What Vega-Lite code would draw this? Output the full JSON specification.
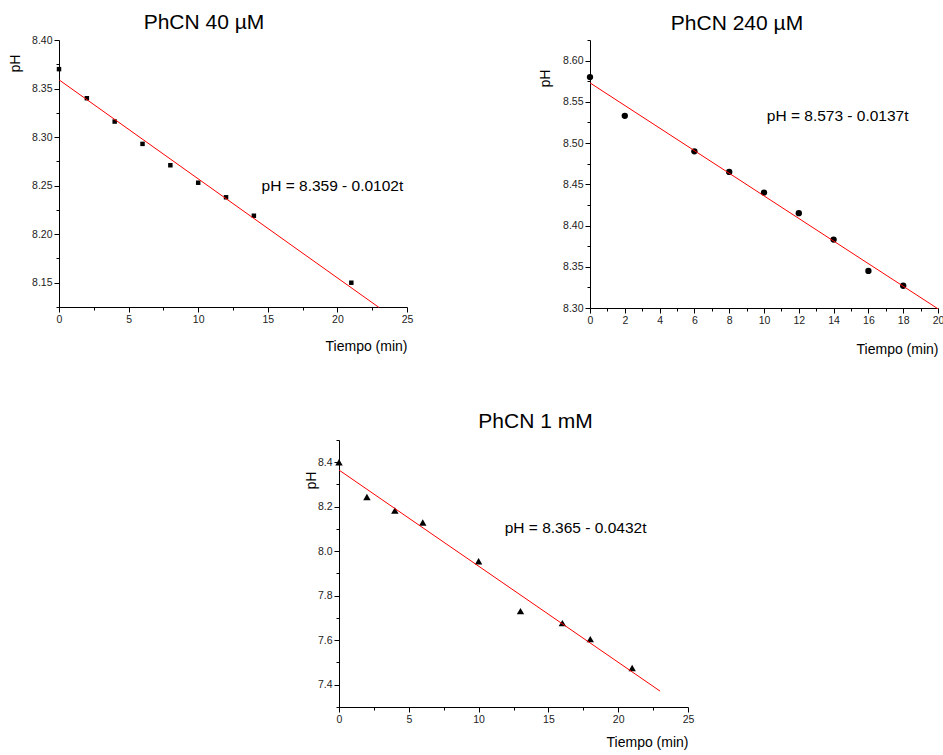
{
  "$schema": "https://vega.github.io/schema/vega-lite/v6.json",
  "padding": {"left": 8, "top": 12, "right": 0, "bottom": 0},
  "background": "white",
  "config": {
    "font": "Liberation Sans",
    "view": {"stroke": null},
    "title": {"font": "Liberation Sans", "fontSize": 21, "fontWeight": "normal", "color": "black", "frame": "group", "anchor": "middle"},
    "axis": {
      "grid": false, "domainColor": "black", "domainWidth": 1, "tickColor": "black", "tickWidth": 1,
      "labelFont": "Liberation Sans", "labelFontSize": 10.5, "labelColor": "#222", "labelPadding": 2,
      "labelFlush": false, "labelOverlap": false, "labelBound": false,
      "titleFont": "Liberation Sans", "titleFontSize": 14, "titleFontWeight": "normal", "titleColor": "black"
    },
    "text": {"font": "Liberation Sans"}
  },
  "datasets": {
    "p40": [
      {"t": 0, "pH": 8.370}, {"t": 2, "pH": 8.340}, {"t": 4, "pH": 8.316}, {"t": 6, "pH": 8.293},
      {"t": 8, "pH": 8.271}, {"t": 10, "pH": 8.253}, {"t": 12, "pH": 8.238}, {"t": 14, "pH": 8.219},
      {"t": 21, "pH": 8.150}
    ],
    "f40": [{"t": 0, "pH": 8.359}, {"t": 23, "pH": 8.1244}],
    "p240": [
      {"t": 0, "pH": 8.580}, {"t": 2, "pH": 8.533}, {"t": 6, "pH": 8.490}, {"t": 8, "pH": 8.465},
      {"t": 10, "pH": 8.440}, {"t": 12, "pH": 8.415}, {"t": 14, "pH": 8.383}, {"t": 16, "pH": 8.345},
      {"t": 18, "pH": 8.327}
    ],
    "f240": [{"t": 0, "pH": 8.573}, {"t": 20, "pH": 8.299}],
    "p1": [
      {"t": 0, "pH": 8.400}, {"t": 2, "pH": 8.244}, {"t": 4, "pH": 8.183}, {"t": 6, "pH": 8.129},
      {"t": 10, "pH": 7.955}, {"t": 13, "pH": 7.731}, {"t": 16, "pH": 7.677}, {"t": 18, "pH": 7.605},
      {"t": 21, "pH": 7.475}
    ],
    "f1": [{"t": 0, "pH": 8.365}, {"t": 23, "pH": 7.3714}]
  },
  "spacing": 53,
  "vconcat": [
    {
      "spacing": 125,
      "hconcat": [
        {
          "width": 348, "height": 267,
          "title": {"text": "PhCN 40 µM", "dx": -29, "offset": 2},
          "resolve": {"axis": {"x": "independent", "y": "independent"}},
          "layer": [
            {
              "data": {"name": "p40"},
              "mark": {"type": "square", "size": 20, "color": "black", "opacity": 1},
              "encoding": {
                "x": {"field": "t", "type": "quantitative", "scale": {"domain": [0, 25], "nice": false, "zero": false},
                  "axis": {"orient": "bottom", "title": "Tiempo (min)", "titleAnchor": "end", "titlePadding": 14.5,
                    "values": [0, 5, 10, 15, 20, 25], "tickSize": 5, "labelOverlap": false, "labelFlush": false}},
                "y": {"field": "pH", "type": "quantitative", "scale": {"domain": [8.125, 8.4], "nice": false, "zero": false},
                  "axis": {"orient": "left", "title": "pH", "titleX": -44, "titleY": 23, "titleAngle": -90, "titleAlign": "center", "titleBaseline": "middle",
                    "values": [8.15, 8.2, 8.25, 8.3, 8.35, 8.4], "format": ".2f", "tickSize": 5, "labelOverlap": false}}
              }
            },
            {
              "data": {"name": "f40"},
              "mark": {"type": "line", "color": "#ff0000", "strokeWidth": 1},
              "encoding": {
                "x": {"field": "t", "type": "quantitative",
                  "axis": {"orient": "bottom", "title": null, "labels": false, "domain": false, "tickSize": 3,
                    "values": [2.5, 7.5, 12.5, 17.5, 22.5]}},
                "y": {"field": "pH", "type": "quantitative",
                  "axis": {"orient": "left", "title": null, "labels": false, "domain": false, "tickSize": 3,
                    "values": [8.125, 8.175, 8.225, 8.275, 8.325, 8.375]}}
              }
            },
            {
              "data": {"values": [{}]},
              "mark": {"type": "text", "align": "left", "baseline": "middle", "fontSize": 15.5, "color": "black"},
              "encoding": {"x": {"datum": 14.55, "axis": null}, "y": {"datum": 8.25, "axis": null}, "text": {"value": "pH = 8.359 - 0.0102t"}}
            }
          ]
        },
        {
          "width": 348, "height": 268,
          "title": {"text": "PhCN 240 µM", "dx": -27, "offset": 5.5},
          "resolve": {"axis": {"x": "independent", "y": "independent"}},
          "layer": [
            {
              "data": {"name": "p240"},
              "mark": {"type": "circle", "size": 40, "color": "black", "opacity": 1},
              "encoding": {
                "x": {"field": "t", "type": "quantitative", "scale": {"domain": [0, 20], "nice": false, "zero": false},
                  "axis": {"orient": "bottom", "title": "Tiempo (min)", "titleAnchor": "end", "titlePadding": 17,
                    "values": [0, 2, 4, 6, 8, 10, 12, 14, 16, 18, 20], "tickSize": 5, "labelOverlap": false, "labelFlush": false}},
                "y": {"field": "pH", "type": "quantitative", "scale": {"domain": [8.3, 8.625], "nice": false, "zero": false},
                  "axis": {"orient": "left", "title": "pH", "titleX": -45, "titleY": 38, "titleAngle": -90, "titleAlign": "center", "titleBaseline": "middle",
                    "values": [8.3, 8.35, 8.4, 8.45, 8.5, 8.55, 8.6], "format": ".2f", "tickSize": 5, "labelOverlap": false}}
              }
            },
            {
              "data": {"name": "f240"},
              "mark": {"type": "line", "color": "#ff0000", "strokeWidth": 1},
              "encoding": {
                "x": {"field": "t", "type": "quantitative",
                  "axis": {"orient": "bottom", "title": null, "labels": false, "domain": false, "tickSize": 3,
                    "values": [1, 3, 5, 7, 9, 11, 13, 15, 17, 19]}},
                "y": {"field": "pH", "type": "quantitative",
                  "axis": {"orient": "left", "title": null, "labels": false, "domain": false, "tickSize": 3,
                    "values": [8.325, 8.375, 8.425, 8.475, 8.525, 8.575, 8.625]}}
              }
            },
            {
              "data": {"values": [{}]},
              "mark": {"type": "text", "align": "left", "baseline": "middle", "fontSize": 15.5, "color": "black"},
              "encoding": {"x": {"datum": 10.16, "axis": null}, "y": {"datum": 8.533, "axis": null}, "text": {"value": "pH = 8.573 - 0.0137t"}}
            }
          ]
        }
      ]
    },
    {
      "spacing": 10,
      "hconcat": [
        {
          "width": 235, "height": 10,
          "data": {"values": [{}]},
          "mark": {"type": "point", "opacity": 0},
          "encoding": {}
        },
        {
          "width": 349, "height": 267,
          "title": {"text": "PhCN 1 mM", "dx": 22, "offset": 7.6},
          "resolve": {"axis": {"x": "independent", "y": "independent"}},
          "layer": [
            {
              "data": {"name": "p1"},
              "mark": {"type": "point", "shape": "triangle-up", "filled": true, "size": 55, "color": "black", "opacity": 1},
              "encoding": {
                "x": {"field": "t", "type": "quantitative", "scale": {"domain": [0, 25], "nice": false, "zero": false},
                  "axis": {"orient": "bottom", "title": "Tiempo (min)", "titleAnchor": "end", "titlePadding": 11,
                    "values": [0, 5, 10, 15, 20, 25], "tickSize": 5, "labelOverlap": false, "labelFlush": false}},
                "y": {"field": "pH", "type": "quantitative", "scale": {"domain": [7.3, 8.5], "nice": false, "zero": false},
                  "axis": {"orient": "left", "title": "pH", "titleX": -27.6, "titleY": 40, "titleAngle": -90, "titleAlign": "center", "titleBaseline": "middle",
                    "values": [7.4, 7.6, 7.8, 8.0, 8.2, 8.4], "format": ".1f", "tickSize": 5, "labelOverlap": false}}
              }
            },
            {
              "data": {"name": "f1"},
              "mark": {"type": "line", "color": "#ff0000", "strokeWidth": 1},
              "encoding": {
                "x": {"field": "t", "type": "quantitative",
                  "axis": {"orient": "bottom", "title": null, "labels": false, "domain": false, "tickSize": 3,
                    "values": [2.5, 7.5, 12.5, 17.5, 22.5]}},
                "y": {"field": "pH", "type": "quantitative",
                  "axis": {"orient": "left", "title": null, "labels": false, "domain": false, "tickSize": 3,
                    "values": [7.3, 7.5, 7.7, 7.9, 8.1, 8.3, 8.5]}}
              }
            },
            {
              "data": {"values": [{}]},
              "mark": {"type": "text", "align": "left", "baseline": "middle", "fontSize": 15.5, "color": "black"},
              "encoding": {"x": {"datum": 11.87, "axis": null}, "y": {"datum": 8.104, "axis": null}, "text": {"value": "pH = 8.365 - 0.0432t"}}
            }
          ]
        }
      ]
    }
  ]
}
